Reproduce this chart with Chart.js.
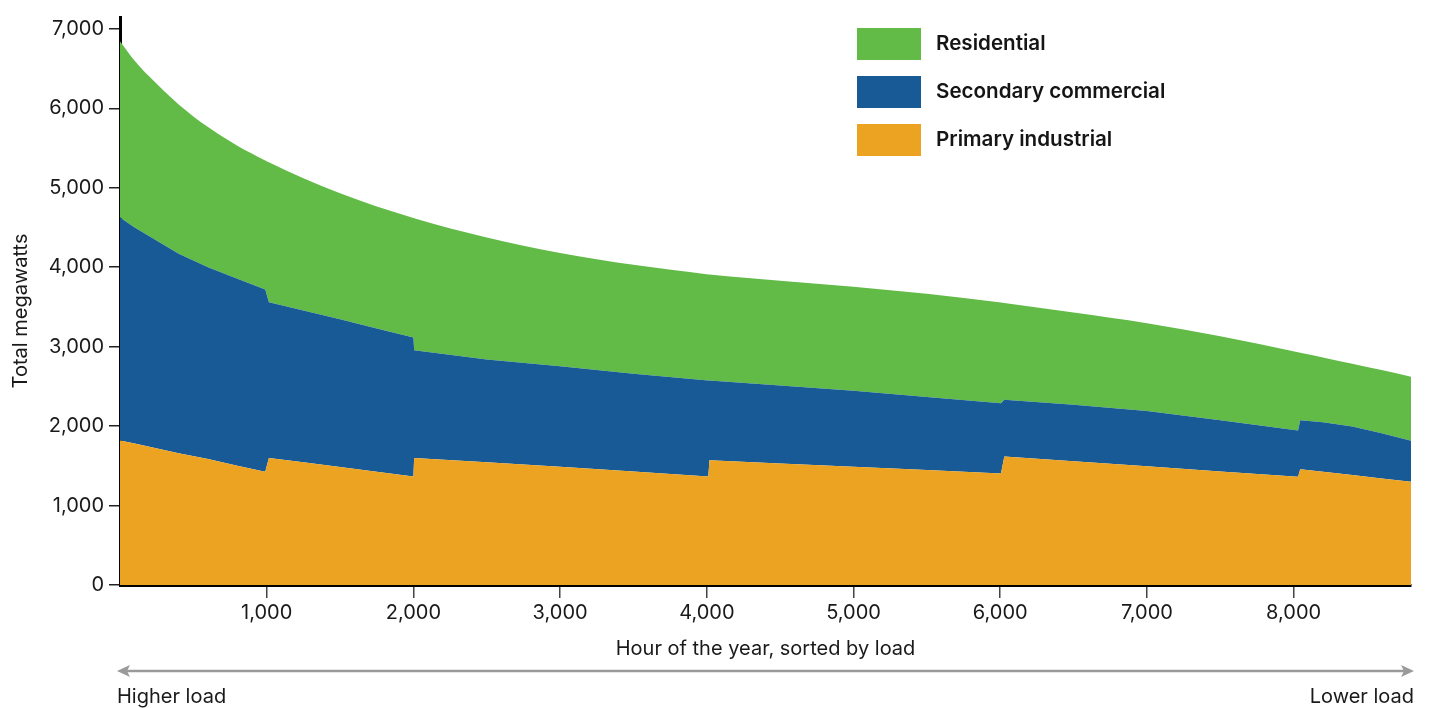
<!DOCTYPE html>
<html>
<head>
<meta charset="utf-8">
<script src="https://cdn.jsdelivr.net/npm/chart.js@4.4.1/dist/chart.umd.min.js"></script>
<style>
  html, body { margin: 0; padding: 0; background: #fff; }
  #wrap { width: 1430px; height: 708px; }
</style>
</head>
<body>
<div id="wrap"><canvas id="loadChart" width="1430" height="708"></canvas></div>
<script>
// hours of the year (sorted by load), shared by every series
const hours = [0, 100, 200, 400, 600, 800, 990, 1015, 1250, 1500, 1750, 2000, 2005, 2500, 3000, 3500, 4010, 4018,
    4500, 5000, 5500, 6005, 6028, 6500, 7000, 7500, 8030, 8045, 8200, 8400, 8600, 8800];

// megawatts per customer class
const industrial = [1820, 1780, 1740, 1660, 1585, 1500, 1425, 1600, 1545, 1485, 1425, 1365, 1600, 1545, 1490, 1430, 1367, 1571,
    1530, 1490, 1447, 1404, 1617, 1557, 1494, 1430, 1362, 1458, 1425, 1385, 1342, 1300];
const commercial = [2805, 2720, 2650, 2510, 2415, 2355, 2295, 1960, 1910, 1860, 1805, 1750, 1355, 1295, 1265, 1230, 1208, 1003,
    980, 955, 918, 883, 716, 713, 696, 645, 584, 617, 625, 610, 568, 515];
const residential = [2221, 2100, 2010, 1880, 1765, 1675, 1625, 1762, 1665, 1585, 1535, 1505, 1662, 1535, 1425, 1370, 1335, 1334,
    1320, 1310, 1300, 1268, 1217, 1160, 1105, 1055, 984, 849, 815, 790, 795, 807];

const xTicks = [1000, 2000, 3000, 4000, 5000, 6000, 7000, 8000];
const yTicks = [0, 1000, 2000, 3000, 4000, 5000, 6000, 7000];

const legendItems = ['Residential', 'Secondary commercial', 'Primary industrial'];
const colors = {
    'Residential': '#62bb47',
    'Secondary commercial': '#185a96',
    'Primary industrial': '#eca321'
};

const FONT = 'Inter, "Noto Sans", sans-serif';

function toPoints(values) {
    return hours.map((h, i) => ({ x: h, y: values[i] }));
}

function fmt(v) {
    return Number(v).toLocaleString('en-US');
}

const extras = {
    id: 'extras',
    afterDraw(chart) {
        const ctx = chart.ctx;
        const area = chart.chartArea;
        ctx.save();

        // legend
        legendItems.forEach((name, i) => {
            const top = 28 + i * 48;
            ctx.fillStyle = colors[name];
            ctx.fillRect(857, top, 64, 32);
            ctx.fillStyle = '#151515';
            ctx.font = '600 20.6px ' + FONT;
            ctx.textAlign = 'left';
            ctx.textBaseline = 'middle';
            ctx.fillText(name, 936, top + 16);
        });

        // axis titles
        ctx.fillStyle = '#1a1a1a';
        ctx.font = '20px ' + FONT;
        ctx.textAlign = 'center';
        ctx.textBaseline = 'middle';
        ctx.fillText('Hour of the year, sorted by load', (area.left + area.right) / 2, 649);

        ctx.save();
        ctx.translate(21, 311);
        ctx.rotate(-Math.PI / 2);
        ctx.fillText('Total megawatts', 0, 0);
        ctx.restore();

        // double arrow
        const y = 671;
        const x0 = 117, x1 = 1414;
        ctx.strokeStyle = '#9a9a9a';
        ctx.fillStyle = '#9a9a9a';
        ctx.lineWidth = 2.5;
        ctx.beginPath();
        ctx.moveTo(x0 + 8, y);
        ctx.lineTo(x1 - 8, y);
        ctx.stroke();
        ctx.beginPath();
        ctx.moveTo(x0, y);
        ctx.lineTo(x0 + 13, y - 6);
        ctx.lineTo(x0 + 10, y);
        ctx.lineTo(x0 + 13, y + 6);
        ctx.closePath();
        ctx.fill();
        ctx.beginPath();
        ctx.moveTo(x1, y);
        ctx.lineTo(x1 - 13, y - 6);
        ctx.lineTo(x1 - 10, y);
        ctx.lineTo(x1 - 13, y + 6);
        ctx.closePath();
        ctx.fill();

        ctx.fillStyle = '#1a1a1a';
        ctx.font = '20px ' + FONT;
        ctx.textBaseline = 'alphabetic';
        ctx.textAlign = 'left';
        ctx.fillText('Higher load', 117, 703);
        ctx.textAlign = 'right';
        ctx.fillText('Lower load', 1414, 703);

        ctx.restore();
    }
};

function draw() {
    const ctx = document.getElementById('loadChart').getContext('2d');
    new Chart(ctx, {
        type: 'line',
        data: {
            datasets: [{
                label: 'Primary industrial',
                data: toPoints(industrial),
                backgroundColor: colors['Primary industrial'],
                borderWidth: 0,
                pointRadius: 0,
                tension: 0,
                fill: 'origin'
            }, {
                label: 'Secondary commercial',
                data: toPoints(commercial),
                backgroundColor: colors['Secondary commercial'],
                borderWidth: 0,
                pointRadius: 0,
                tension: 0,
                fill: '-1'
            }, {
                label: 'Residential',
                data: toPoints(residential),
                backgroundColor: colors['Residential'],
                borderWidth: 0,
                pointRadius: 0,
                cubicInterpolationMode: 'monotone',
                fill: '-1'
            }]
        },
        options: {
            responsive: false,
            animation: false,
            devicePixelRatio: 1,
            layout: { padding: { top: 13, right: 19, left: 0, bottom: 0 } },
            plugins: {
                legend: { display: false },
                tooltip: { enabled: false }
            },
            scales: {
                x: {
                    type: 'linear',
                    min: 0,
                    max: 8800,
                    z: 1,
                    afterBuildTicks: axis => { axis.ticks = xTicks.map(v => ({ value: v })); },
                    afterFit: axis => { axis.height = 123; },
                    grid: { drawOnChartArea: false, drawTicks: true, tickLength: 13, color: '#444', lineWidth: 1.5 },
                    border: { display: true, color: '#000', width: 3 },
                    ticks: {
                        color: '#1a1a1a',
                        font: { family: FONT, size: 20 },
                        padding: 3,
                        maxRotation: 0,
                        autoSkip: false,
                        callback: v => fmt(v)
                    }
                },
                y: {
                    stacked: true,
                    min: 0,
                    max: 7150,
                    z: 1,
                    afterBuildTicks: axis => { axis.ticks = yTicks.map(v => ({ value: v })); },
                    afterFit: axis => { axis.width = 120; },
                    grid: { drawOnChartArea: false, drawTicks: true, tickLength: 11, color: '#222', lineWidth: 1.5 },
                    border: { display: true, color: '#000', width: 3 },
                    ticks: {
                        color: '#1a1a1a',
                        font: { family: FONT, size: 20 },
                        padding: 5,
                        autoSkip: false,
                        callback: v => fmt(v)
                    }
                }
            }
        },
        plugins: [extras]
    });
}

Promise.all([
    document.fonts.load('20px Inter'),
    document.fonts.load('600 20px Inter')
]).then(draw, draw);
</script>
</body>
</html>
